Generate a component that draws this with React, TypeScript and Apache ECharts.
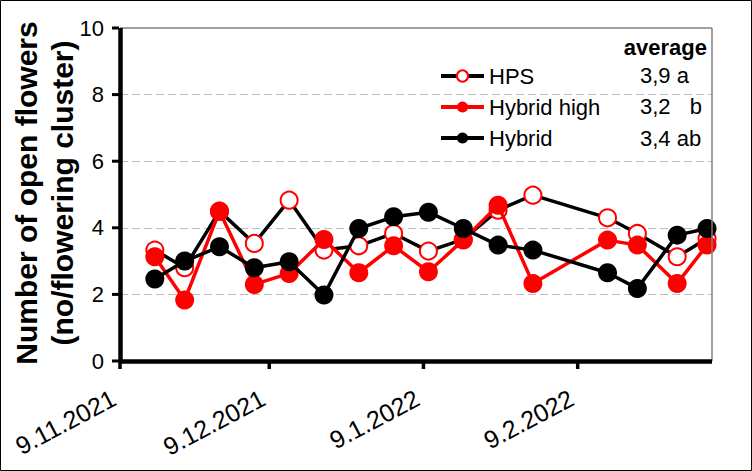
import React, { useEffect, useRef } from "react";
import * as echarts from "echarts";

const FONT = "'Liberation Sans', Arial, sans-serif";
const BASE_DATE = "2021-11-09";
const AXIS_END_DATE = "2022-03-08";
const tickDates = ["2021-11-09", "2021-12-09", "2022-01-09", "2022-02-09"];
const yTickValues = [0, 2, 4, 6, 8, 10];

const sampleDates = [
  "2021-11-16", "2021-11-22", "2021-11-29", "2021-12-06", "2021-12-13", "2021-12-20",
  "2021-12-27", "2022-01-03", "2022-01-10", "2022-01-17", "2022-01-24", "2022-01-31",
  "2022-02-15", "2022-02-21", "2022-03-01", "2022-03-07",
];
const hpsValues = [3.33, 2.8, 4.5, 3.53, 4.83, 3.33, 3.46, 3.83, 3.3, 3.65, 4.53, 4.98, 4.3, 3.83, 3.13, 3.68];
const hybridHighValues = [3.13, 1.83, 4.5, 2.3, 2.63, 3.65, 2.65, 3.46, 2.68, 3.63, 4.68, 2.33, 3.63, 3.48, 2.33, 3.48];
const hybridValues = [2.46, 3.0, 3.43, 2.8, 2.98, 1.98, 3.98, 4.33, 4.47, 3.98, 3.48, 3.33, 2.65, 2.18, 3.78, 3.98];

const seriesNames = ["HPS", "Hybrid high", "Hybrid"];
const averageLabels = ["3,9 a", "3,2", "3,4 ab"];
const yTitleLines = ["Number of open flowers", "(no/flowering cluster)"];

const DAY = 86400000;
const baseMs = Date.parse(BASE_DATE);
const dayOf = (iso: string) => Math.round((Date.parse(iso) - baseMs) / DAY);
const fmtDay = (v: number) => {
  const d = new Date(baseMs + v * DAY);
  return `${d.getUTCDate()}.${d.getUTCMonth() + 1}.${d.getUTCFullYear()}`;
};
const pairs = (vals: number[]) => sampleDates.map((d, i) => [dayOf(d), vals[i]]);

export default function App() {
  const ref = useRef<HTMLDivElement>(null);
  useEffect(() => {
    document.body.style.margin = "0";
    if (!ref.current) return;
    const chart = echarts.init(ref.current, null, { renderer: "svg" });
    const ticks = tickDates.map(dayOf);
    const xMax = dayOf(AXIS_END_DATE);
    const frame = {
      silent: true,
      symbol: ["none", "none"],
      label: { show: false },
      emphasis: { disabled: true },
      data: [
        { xAxis: xMax, lineStyle: { color: "#808080", width: 1.5, type: "solid" } },
        { yAxis: 10, lineStyle: { color: "#808080", width: 1.5, type: "solid" } },
        { xAxis: 0, lineStyle: { color: "#000", width: 4.5, type: "solid" } },
        { yAxis: 0, lineStyle: { color: "#000", width: 4.5, type: "solid" } },
      ],
    };
    const option: any = {
      animation: false,
      backgroundColor: "#fff",
      grid: { left: 120, right: 40, top: 28, bottom: 110 },
      xAxis: {
        type: "value",
        min: 0,
        max: xMax,
        axisLine: { show: false },
        axisTick: { show: false },
        axisLabel: {
          customValues: ticks,
          formatter: (v: number) => fmtDay(v),
          rotate: 28,
          margin: 32,
          padding: [0, 7, 0, 0],
          fontSize: 25,
          fontFamily: FONT,
          color: "#000",
        },
        splitLine: { show: false },
      },
      yAxis: {
        type: "value",
        min: 0,
        max: 10,
        interval: 2,
        axisLine: { show: false },
        axisTick: { show: false },
        axisLabel: { fontSize: 22, fontFamily: FONT, color: "#000", margin: 16 },
        splitLine: {
          show: true,
          showMinLine: false,
          showMaxLine: false,
          lineStyle: { color: "#BDBDBD", width: 1.2, type: [8, 4] },
        },
      },
      legend: {
        orient: "vertical",
        left: 439,
        top: 65,
        padding: 0,
        itemWidth: 43,
        itemHeight: 14,
        itemGap: 9,
        lineStyle: { width: 4 },
        textStyle: { fontSize: 22, fontFamily: FONT, color: "#000" },
        data: seriesNames,
      },
      series: [
        {
          name: seriesNames[0], type: "line", data: pairs(hpsValues),
          symbol: "emptyCircle", symbolSize: 17,
          lineStyle: { color: "#000", width: 3.5 },
          itemStyle: { color: "#FF0000", borderWidth: 2 },
          markLine: frame,
          z: 2,
        },
        {
          name: seriesNames[1], type: "line", data: pairs(hybridHighValues),
          symbol: "circle", symbolSize: 19,
          lineStyle: { color: "#FF0000", width: 3.5 },
          itemStyle: { color: "#FF0000" },
          z: 3,
        },
        {
          name: seriesNames[2], type: "line", data: pairs(hybridValues),
          symbol: "circle", symbolSize: 19,
          lineStyle: { color: "#000", width: 3.5 },
          itemStyle: { color: "#000" },
          z: 4,
        },
      ],
    };
    chart.setOption(option);

    const px = (x: number, y: number) =>
      chart.convertToPixel({ xAxisIndex: 0, yAxisIndex: 0 }, [x, y]) as number[];
    const [x0, y0] = px(0, 0);
    const bar = (x: number, y: number, w: number, h: number, fill: string, z = 10) => ({
      type: "rect", z, silent: true,
      shape: { x, y, width: w, height: h },
      style: { fill },
    });
    const textEl = (t: string, x: number, y: number, font: string, align: string, rot = 0) => ({
      type: "text", x, y, rotation: rot, z: 20,
      style: {
        text: t, font, fill: "#000",
        align, verticalAlign: "middle", textAlign: align, textVerticalAlign: "middle",
      },
    });

    const graphic: any[] = [
      { type: "rect", z: 100, silent: true, shape: { x: 0.5, y: 0.5, width: 751, height: 470 }, style: { fill: "none", stroke: "#000", lineWidth: 1 } },
      ...yTickValues.map((v) => {
        const [, ty] = px(0, v);
        return bar(x0 - 8, ty - 1.5, 7, 3, "#000");
      }),
      ...ticks.map((v) => {
        const [tx] = px(v, 0);
        return bar(tx - 1.75, y0, 3.5, 8, "#000");
      }),
      ...yTitleLines.map((t, i) => textEl(t, 26 + i * 36, 193, `bold 30px ${FONT}`, "center", Math.PI / 2)),
      textEl("average", 707, 47, `bold 22px ${FONT}`, "right"),
      ...averageLabels.map((t, i) => textEl(t, 640, 75 + i * 31.5, `22px ${FONT}`, "left")),
      textEl("b", 702, 106.5, `22px ${FONT}`, "right"),
    ];
    chart.setOption({ graphic });
    return () => chart.dispose();
  }, []);
  return <div ref={ref} style={{ width: 752, height: 471 }} />;
}
